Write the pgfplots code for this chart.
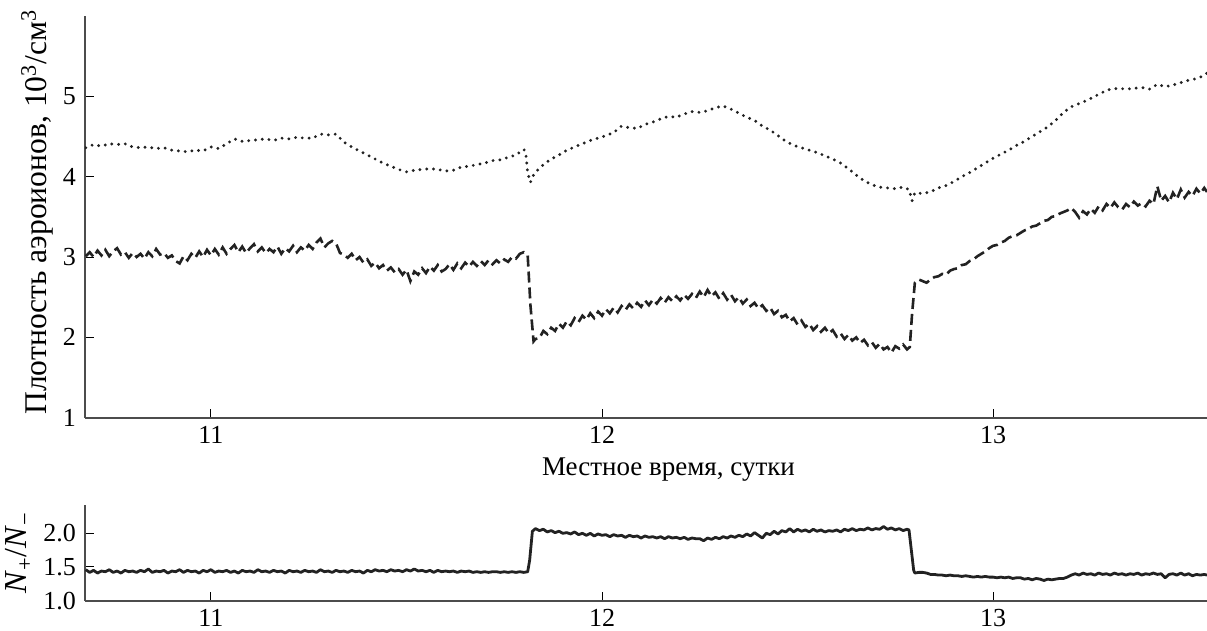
\documentclass[border=0pt]{standalone}
\usepackage{fontspec}
\setmainfont{Liberation Serif}
\usepackage{pgfplots}
\pgfplotsset{compat=1.18}
\definecolor{ink}{HTML}{222222}
\begin{document}
\fontsize{13}{15}\selectfont
\begin{tikzpicture}
\pgfplotsset{
  myaxis/.style={
    scale only axis, width=561pt,
    xmin=10.678, xmax=13.547,
    axis x line*=bottom, axis y line*=left,
    axis line style={-, line width=1pt, black!70},
    tick style={line width=0.5pt, black},
    tick align=inside, major tick length=4.5pt,
    xtick={11,12,13},
    /pgf/number format/assume math mode=true,
    tick label style={font=\fontsize{13}{15}\selectfont},
    label style={font=\fontsize{13.5}{16}\selectfont},
  }
}
\begin{axis}[myaxis, at={(0pt,91.5pt)}, anchor=south west, height=200.85pt,
  ymin=1, ymax=6, ytick={1,2,3,4,5},
  xlabel={Местное время, сутки},
  xlabel style={at={(axis description cs:0.52,-0.145)}, anchor=base},
  ylabel={Плотность аэроионов, 10\textsuperscript{3}/см\textsuperscript{3}},
  ylabel style={at={(axis description cs:-0.0345,0.512)}, anchor=base, font=\fontsize{15.8}{18}\selectfont},
]
% dotted series
\addplot[ink, line width=1.6pt, line cap=round, dash pattern=on 0pt off 3.4pt] coordinates {
(10.68,4.36)(10.70,4.40)(10.72,4.38)(10.74,4.41)(10.76,4.40)(10.78,4.41)(10.80,4.37)(10.82,4.36)(10.84,4.37)(10.86,4.35)
(10.88,4.36)(10.90,4.33)(10.92,4.32)(10.94,4.31)(10.96,4.33)(10.98,4.32)(11.00,4.37)(11.02,4.35)(11.04,4.41)(11.06,4.47)
(11.08,4.44)(11.10,4.45)(11.12,4.46)(11.14,4.47)(11.16,4.45)(11.18,4.48)(11.20,4.47)(11.22,4.49)(11.24,4.48)(11.26,4.48)
(11.28,4.53)(11.30,4.52)(11.32,4.53)(11.34,4.43)(11.36,4.37)(11.38,4.32)(11.40,4.27)(11.42,4.22)(11.44,4.17)(11.46,4.13)
(11.48,4.09)(11.50,4.06)(11.52,4.08)(11.54,4.09)(11.56,4.10)(11.58,4.09)(11.60,4.07)(11.62,4.08)(11.64,4.12)(11.66,4.13)
(11.68,4.15)(11.70,4.17)(11.72,4.20)(11.74,4.21)(11.76,4.24)(11.78,4.27)(11.80,4.34)(11.805,4.30)(11.81,4.05)(11.817,3.93)
(11.825,4.02)(11.835,4.08)(11.85,4.15)(11.87,4.22)(11.89,4.27)(11.91,4.33)(11.93,4.37)(11.95,4.41)(11.97,4.45)(11.99,4.48)
(12.01,4.51)(12.03,4.55)(12.05,4.63)(12.07,4.61)(12.09,4.60)(12.11,4.65)(12.13,4.68)(12.15,4.72)(12.17,4.75)(12.19,4.74)
(12.21,4.78)(12.23,4.81)(12.25,4.80)(12.27,4.82)(12.29,4.86)(12.31,4.88)(12.33,4.84)(12.35,4.79)(12.37,4.74)(12.39,4.70)
(12.41,4.63)(12.43,4.58)(12.45,4.51)(12.47,4.44)(12.49,4.39)(12.51,4.36)(12.53,4.33)(12.55,4.30)(12.57,4.26)(12.59,4.22)
(12.61,4.17)(12.63,4.10)(12.65,4.02)(12.67,3.95)(12.69,3.90)(12.71,3.87)(12.73,3.86)(12.75,3.85)(12.77,3.87)(12.785,3.84)
(12.793,3.70)(12.80,3.80)(12.82,3.79)(12.84,3.81)(12.86,3.86)(12.88,3.89)(12.90,3.94)(12.92,4.00)(12.94,4.05)(12.96,4.11)
(12.98,4.17)(13.00,4.23)(13.02,4.28)(13.04,4.33)(13.06,4.39)(13.08,4.44)(13.10,4.50)(13.12,4.56)(13.14,4.62)(13.16,4.70)
(13.18,4.80)(13.20,4.87)(13.22,4.91)(13.24,4.95)(13.26,5.00)(13.28,5.05)(13.30,5.09)(13.32,5.10)(13.34,5.09)(13.36,5.10)
(13.38,5.11)(13.40,5.09)(13.42,5.15)(13.44,5.12)(13.46,5.14)(13.48,5.17)(13.50,5.20)(13.52,5.22)(13.54,5.26)(13.547,5.29)
};
% dashed series
\addplot[ink, line width=1.3pt, dash pattern=on 5.5pt off 2.5pt] coordinates {
(10.68,3.01)(10.69,3.06)(10.70,3.00)(10.71,3.08)(10.72,3.02)(10.73,3.09)(10.74,3.01)(10.75,3.07)(10.76,3.11)(10.77,3.03)
(10.78,3.06)(10.79,2.99)(10.80,3.05)(10.81,3.00)(10.82,3.04)(10.83,2.98)(10.84,3.06)(10.85,3.01)(10.86,3.10)(10.87,3.03)
(10.88,3.05)(10.89,2.99)(10.90,3.02)(10.91,2.95)(10.92,2.92)(10.93,3.01)(10.94,2.96)(10.95,3.04)(10.96,2.99)(10.97,3.07)
(10.98,3.00)(10.99,3.09)(11.00,3.02)(11.01,3.10)(11.02,3.03)(11.03,3.12)(11.04,3.04)(11.05,3.10)(11.06,3.15)(11.07,3.06)
(11.08,3.13)(11.09,3.05)(11.10,3.11)(11.11,3.16)(11.12,3.07)(11.13,3.12)(11.14,3.05)(11.15,3.10)(11.16,3.06)(11.17,3.13)
(11.18,3.04)(11.19,3.11)(11.20,3.07)(11.21,3.14)(11.22,3.06)(11.23,3.12)(11.24,3.08)(11.25,3.15)(11.26,3.10)(11.27,3.18)
(11.28,3.23)(11.29,3.12)(11.30,3.17)(11.31,3.20)(11.32,3.17)(11.33,3.05)(11.34,3.03)(11.35,2.99)(11.36,3.04)(11.37,2.96)
(11.38,3.00)(11.39,2.93)(11.40,2.97)(11.41,2.89)(11.42,2.93)(11.43,2.86)(11.44,2.90)(11.45,2.83)(11.46,2.87)(11.47,2.81)
(11.48,2.85)(11.49,2.78)(11.50,2.84)(11.51,2.70)(11.52,2.82)(11.53,2.78)(11.54,2.86)(11.55,2.80)(11.56,2.88)(11.57,2.83)
(11.58,2.90)(11.59,2.82)(11.60,2.85)(11.61,2.91)(11.62,2.84)(11.63,2.92)(11.64,2.86)(11.65,2.93)(11.66,2.88)(11.67,2.94)
(11.68,2.89)(11.69,2.95)(11.70,2.90)(11.71,2.96)(11.72,2.91)(11.73,2.96)(11.74,2.92)(11.75,2.97)(11.76,2.94)(11.77,3.00)
(11.78,2.98)(11.79,3.04)(11.80,3.06)(11.81,3.02)(11.817,2.40)(11.825,1.95)(11.83,1.98)(11.84,1.99)(11.85,2.08)(11.86,2.04)
(11.87,2.12)(11.88,2.08)(11.89,2.17)(11.90,2.12)(11.91,2.20)(11.92,2.15)(11.93,2.24)(11.94,2.19)(11.95,2.27)(11.96,2.22)
(11.97,2.30)(11.98,2.24)(11.99,2.32)(12.00,2.27)(12.01,2.35)(12.02,2.30)(12.03,2.37)(12.04,2.31)(12.05,2.39)(12.06,2.34)
(12.07,2.41)(12.08,2.36)(12.09,2.43)(12.10,2.38)(12.11,2.46)(12.12,2.40)(12.13,2.47)(12.14,2.42)(12.15,2.49)(12.16,2.43)
(12.17,2.50)(12.18,2.45)(12.19,2.51)(12.20,2.46)(12.21,2.53)(12.22,2.48)(12.23,2.54)(12.24,2.49)(12.25,2.57)(12.26,2.50)
(12.27,2.59)(12.28,2.51)(12.29,2.56)(12.30,2.48)(12.31,2.55)(12.32,2.47)(12.33,2.53)(12.34,2.45)(12.35,2.50)(12.36,2.42)
(12.37,2.47)(12.38,2.39)(12.39,2.43)(12.40,2.36)(12.41,2.40)(12.42,2.33)(12.43,2.37)(12.44,2.29)(12.45,2.33)(12.46,2.25)
(12.47,2.28)(12.48,2.20)(12.49,2.24)(12.50,2.16)(12.51,2.21)(12.52,2.13)(12.53,2.17)(12.54,2.09)(12.55,2.14)(12.56,2.07)
(12.57,2.12)(12.58,2.05)(12.59,2.09)(12.60,2.01)(12.61,2.05)(12.62,1.98)(12.63,2.03)(12.64,1.96)(12.65,2.00)(12.66,1.93)
(12.67,1.97)(12.68,1.90)(12.69,1.94)(12.70,1.87)(12.71,1.92)(12.72,1.85)(12.73,1.88)(12.74,1.81)(12.75,1.89)(12.76,1.86)
(12.77,1.91)(12.78,1.85)(12.787,1.88)(12.793,2.30)(12.80,2.68)(12.81,2.72)(12.82,2.70)(12.83,2.68)(12.84,2.72)(12.85,2.75)
(12.86,2.76)(12.87,2.79)(12.88,2.78)(12.89,2.83)(12.90,2.85)(12.91,2.86)(12.92,2.90)(12.93,2.91)(12.94,2.95)(12.95,2.97)
(12.96,3.01)(12.97,3.04)(12.98,3.07)(12.99,3.11)(13.00,3.14)(13.01,3.15)(13.02,3.18)(13.03,3.20)(13.04,3.24)(13.05,3.26)
(13.06,3.27)(13.07,3.30)(13.08,3.33)(13.09,3.35)(13.10,3.38)(13.11,3.39)(13.12,3.42)(13.13,3.45)(13.14,3.46)(13.15,3.50)
(13.16,3.51)(13.17,3.54)(13.18,3.56)(13.19,3.58)(13.20,3.61)(13.21,3.56)(13.22,3.49)(13.23,3.57)(13.24,3.53)(13.25,3.60)
(13.26,3.55)(13.27,3.63)(13.28,3.58)(13.29,3.66)(13.30,3.61)(13.31,3.68)(13.32,3.62)(13.33,3.59)(13.34,3.66)(13.35,3.62)
(13.36,3.69)(13.37,3.64)(13.38,3.67)(13.39,3.63)(13.40,3.70)(13.41,3.66)(13.42,3.88)(13.43,3.70)(13.44,3.76)(13.45,3.68)
(13.46,3.80)(13.47,3.72)(13.48,3.84)(13.49,3.74)(13.50,3.81)(13.51,3.76)(13.52,3.85)(13.53,3.79)(13.54,3.86)(13.547,3.81)
};
\end{axis}
\begin{axis}[myaxis, at={(0pt,0pt)}, anchor=south west, height=47.85pt,
  ymin=1, ymax=2.42, ytick={1,1.5,2},
  yticklabel style={/pgf/number format/.cd, fixed, fixed zerofill, precision=1},
  ylabel={\textit{N}\textsubscript{+}/\textit{N}\textsubscript{−}},
  ylabel style={at={(axis description cs:-0.0517,0.5)}, anchor=base, font=\fontsize{16}{18}\selectfont},
]
\addplot[ink, line width=1.4pt, line join=round] coordinates {
(10.68,1.46)(10.69,1.42)(10.70,1.45)(10.71,1.41)(10.72,1.44)(10.73,1.43)(10.74,1.46)(10.75,1.42)(10.76,1.44)(10.77,1.41)
(10.78,1.45)(10.79,1.43)(10.80,1.44)(10.81,1.42)(10.82,1.45)(10.83,1.43)(10.84,1.47)(10.85,1.42)(10.86,1.44)(10.87,1.43)
(10.88,1.45)(10.89,1.41)(10.90,1.44)(10.91,1.43)(10.92,1.46)(10.93,1.42)(10.94,1.45)(10.95,1.43)(10.96,1.44)(10.97,1.41)
(10.98,1.45)(10.99,1.43)(11.00,1.46)(11.01,1.42)(11.02,1.44)(11.03,1.43)(11.04,1.45)(11.05,1.42)(11.06,1.44)(11.07,1.41)
(11.08,1.45)(11.09,1.43)(11.10,1.44)(11.11,1.42)(11.12,1.46)(11.13,1.43)(11.14,1.44)(11.15,1.42)(11.16,1.45)(11.17,1.43)
(11.18,1.44)(11.19,1.41)(11.20,1.45)(11.21,1.43)(11.22,1.44)(11.23,1.42)(11.24,1.45)(11.25,1.43)(11.26,1.44)(11.27,1.42)
(11.28,1.46)(11.29,1.43)(11.30,1.44)(11.31,1.42)(11.32,1.45)(11.33,1.43)(11.34,1.44)(11.35,1.42)(11.36,1.45)(11.37,1.43)
(11.38,1.44)(11.39,1.41)(11.40,1.45)(11.41,1.43)(11.42,1.46)(11.43,1.44)(11.44,1.45)(11.45,1.43)(11.46,1.46)(11.47,1.44)
(11.48,1.45)(11.49,1.43)(11.50,1.46)(11.51,1.44)(11.52,1.47)(11.53,1.44)(11.54,1.45)(11.55,1.43)(11.56,1.45)(11.57,1.42)
(11.58,1.45)(11.59,1.43)(11.60,1.44)(11.61,1.43)(11.62,1.44)(11.63,1.42)(11.64,1.44)(11.65,1.43)(11.66,1.44)(11.67,1.42)
(11.68,1.43)(11.69,1.42)(11.70,1.43)(11.71,1.42)(11.72,1.43)(11.73,1.43)(11.74,1.42)(11.75,1.43)(11.76,1.42)(11.77,1.43)
(11.78,1.42)(11.79,1.43)(11.80,1.42)(11.81,1.43)(11.815,1.60)(11.822,2.03)(11.83,2.07)(11.84,2.04)(11.85,2.06)(11.86,2.02)
(11.87,2.04)(11.88,2.01)(11.89,2.03)(11.90,2.00)(11.91,2.01)(11.92,1.99)(11.93,2.02)(11.94,1.98)(11.95,2.00)(11.96,1.97)
(11.97,2.00)(11.98,1.96)(11.99,1.99)(12.00,1.97)(12.01,1.98)(12.02,1.95)(12.03,1.98)(12.04,1.96)(12.05,1.97)(12.06,1.94)
(12.07,1.97)(12.08,1.95)(12.09,1.96)(12.10,1.93)(12.11,1.96)(12.12,1.94)(12.13,1.95)(12.14,1.93)(12.15,1.95)(12.16,1.92)
(12.17,1.95)(12.18,1.93)(12.19,1.94)(12.20,1.92)(12.21,1.94)(12.22,1.91)(12.23,1.93)(12.24,1.92)(12.25,1.92)(12.26,1.89)
(12.27,1.93)(12.28,1.91)(12.29,1.94)(12.30,1.92)(12.31,1.95)(12.32,1.93)(12.33,1.96)(12.34,1.94)(12.35,1.97)(12.36,1.95)
(12.37,1.99)(12.38,1.96)(12.39,2.01)(12.40,1.97)(12.41,1.93)(12.42,2.00)(12.43,1.98)(12.44,2.03)(12.45,1.99)(12.46,2.04)
(12.47,2.02)(12.48,2.07)(12.49,2.02)(12.50,2.06)(12.51,2.03)(12.52,2.05)(12.53,2.02)(12.54,2.06)(12.55,2.03)(12.56,2.05)
(12.57,2.02)(12.58,2.04)(12.59,2.03)(12.60,2.05)(12.61,2.02)(12.62,2.06)(12.63,2.04)(12.64,2.07)(12.65,2.04)(12.66,2.06)
(12.67,2.05)(12.68,2.08)(12.69,2.05)(12.70,2.07)(12.71,2.06)(12.72,2.10)(12.73,2.06)(12.74,2.08)(12.75,2.05)(12.76,2.07)
(12.77,2.04)(12.78,2.06)(12.785,2.05)(12.797,1.45)(12.80,1.41)(12.81,1.42)(12.82,1.42)(12.83,1.41)(12.84,1.39)(12.85,1.39)
(12.86,1.38)(12.87,1.38)(12.88,1.37)(12.89,1.38)(12.90,1.37)(12.91,1.37)(12.92,1.36)(12.93,1.37)(12.94,1.36)(12.95,1.35)
(12.96,1.36)(12.97,1.35)(12.98,1.36)(12.99,1.35)(13.00,1.35)(13.01,1.34)(13.02,1.35)(13.03,1.34)(13.04,1.35)(13.05,1.33)
(13.06,1.34)(13.07,1.34)(13.08,1.32)(13.09,1.33)(13.10,1.31)(13.11,1.33)(13.12,1.32)(13.13,1.30)(13.14,1.32)(13.15,1.31)
(13.16,1.32)(13.17,1.33)(13.18,1.33)(13.19,1.35)(13.20,1.38)(13.21,1.40)(13.22,1.38)(13.23,1.41)(13.24,1.39)(13.25,1.40)
(13.26,1.38)(13.27,1.41)(13.28,1.39)(13.29,1.40)(13.30,1.38)(13.31,1.41)(13.32,1.39)(13.33,1.40)(13.34,1.38)(13.35,1.40)
(13.36,1.39)(13.37,1.41)(13.38,1.38)(13.39,1.40)(13.40,1.39)(13.41,1.41)(13.42,1.39)(13.43,1.40)(13.44,1.34)(13.45,1.39)
(13.46,1.40)(13.47,1.38)(13.48,1.41)(13.49,1.38)(13.50,1.40)(13.51,1.37)(13.52,1.39)(13.53,1.38)(13.54,1.39)(13.547,1.38)
};
\end{axis}
\pgfresetboundingbox
\path[use as bounding box] (-42.5pt,-15.15pt) rectangle (561pt,300.35pt);
\end{tikzpicture}
\end{document}
